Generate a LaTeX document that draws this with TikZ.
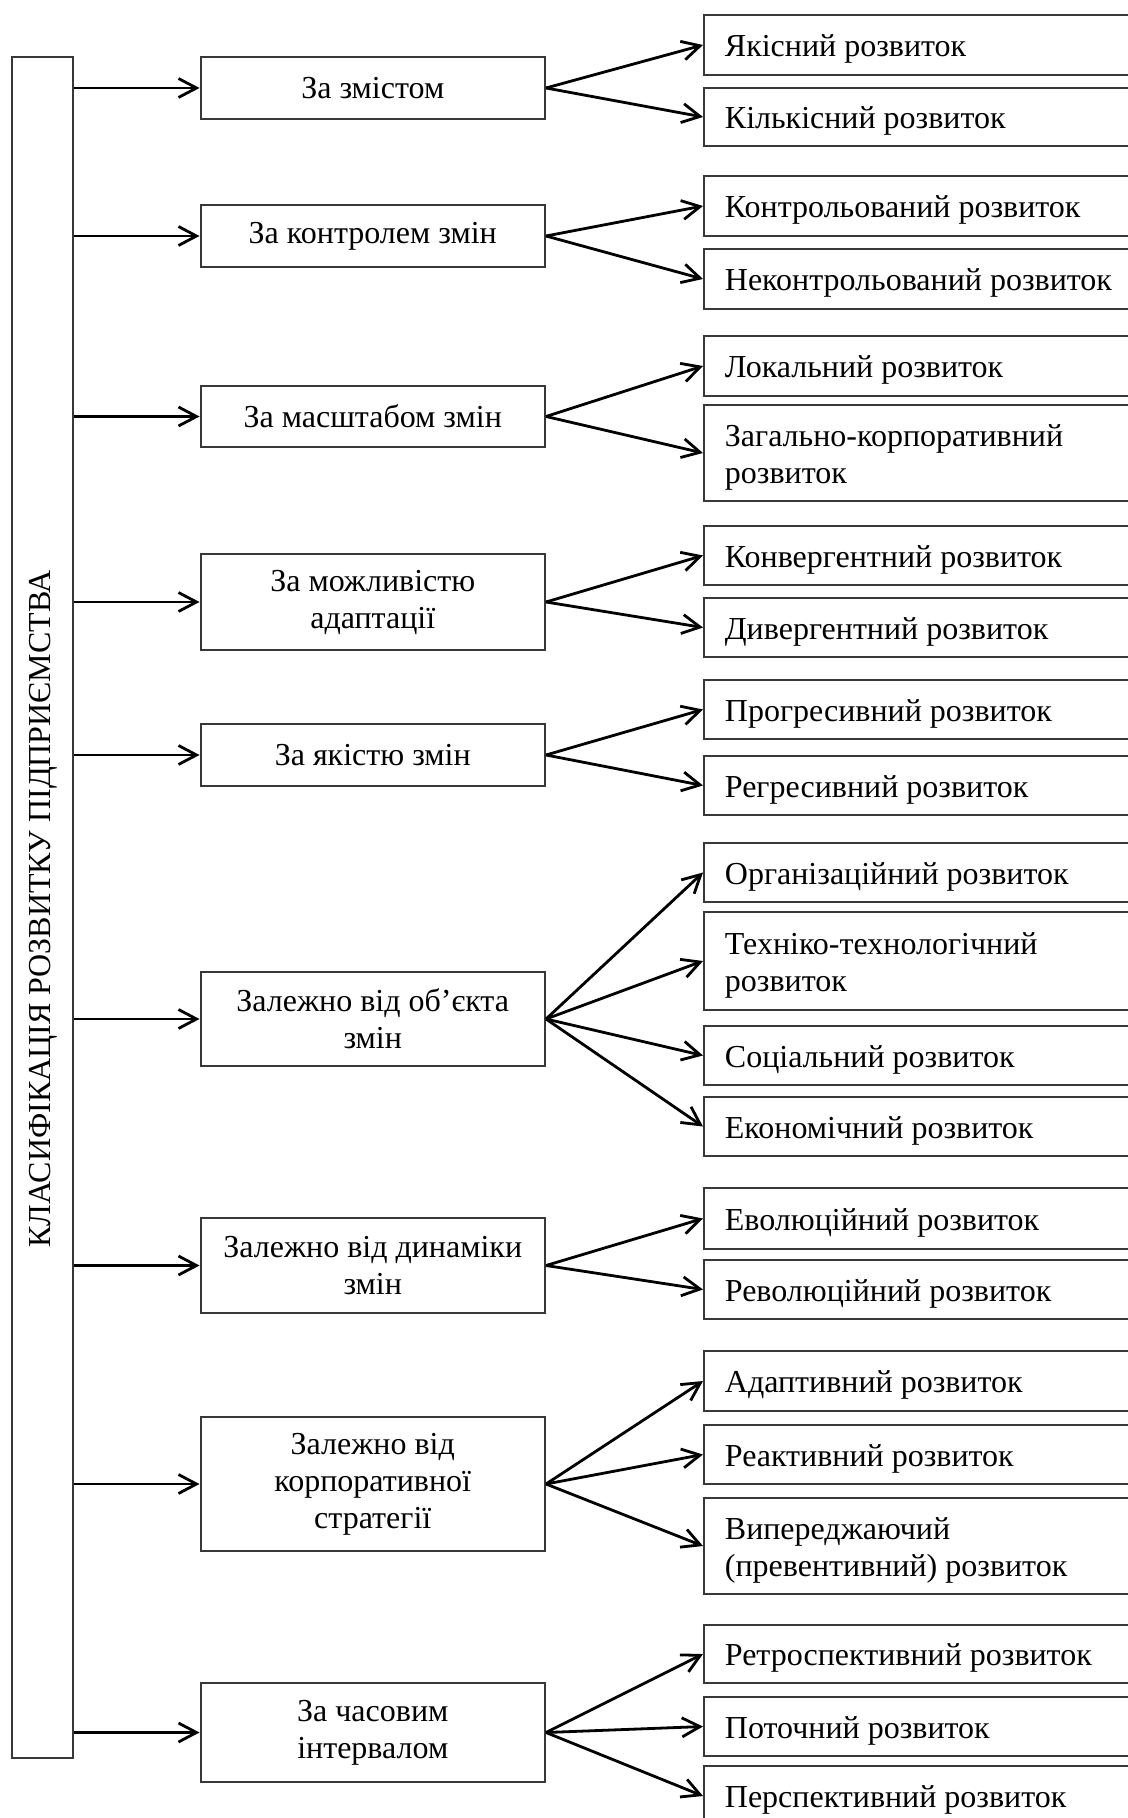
\documentclass[tikz,border=0pt]{standalone}
\usepackage{fontspec}
\setmainfont{Liberation Serif}
\usetikzlibrary{arrows.meta}
\tikzset{
  boxline/.style={draw=black!78, line width=1pt},
  midbox/.style={boxline, inner sep=0pt, minimum width=172.25pt, align=center},
  rbox/.style={boxline, inner sep=0pt, minimum width=250pt, anchor=west},
  rtext/.style={anchor=west, inner xsep=10.75pt, inner ysep=0pt, align=left},
  arr/.style={line width=1.4pt, -{Straight Barb[length=9pt,width=9.5pt]}},
}
\newcommand\MidNode[4]{\node[midbox, minimum height={(#3-#2)*0.5pt}] (#1) at (372.75,{(#2+#3)/2}) {#4};}
\newcommand\RNode[4]{\node[rbox, minimum height={(#3-#2)*0.5pt}] (#1) at (703,{(#2+#3)/2}) {};
  \node[rtext] (#1-t) at ([yshift=-2pt]#1.west) {#4};}
\begin{document}
\begin{tikzpicture}[x=0.5pt,y=-0.5pt,font=\fontsize{16pt}{18.5pt}\selectfont]
\useasboundingbox (0,0) rectangle (1128,1818);
\clip (0,0) rectangle (1128,1818);
\fill[white] (0,0) rectangle (1128,1818);
% left bar
\node[boxline, inner sep=0pt, minimum width=30.5pt, minimum height=850.5pt] (bar) at (42.5,907.5) {};
\node[rotate=90, inner sep=0pt] (bartext) at (43,909) {КЛАСИФІКАЦІЯ РОЗВИТКУ ПІДПРИЄМСТВА};
% middle boxes
\MidNode{m1}{57}{119}{За змістом}
\MidNode{m2}{205}{267}{За контролем змін}
\MidNode{m3}{386}{447}{За масштабом змін}
\MidNode{m4}{554}{650}{За можливістю\\адаптації}
\MidNode{m5}{724}{786}{За якістю змін}
\MidNode{m6}{972}{1066}{Залежно від об’єкта\\змін}
\MidNode{m7}{1218}{1313}{Залежно від динаміки\\змін}
\MidNode{m8}{1417}{1551}{Залежно від\\корпоративної\\стратегії}
\MidNode{m9}{1683}{1782}{За часовим\\інтервалом}
% right boxes
\RNode{r1}{15}{75}{Якісний розвиток}
\RNode{r2}{88}{146}{Кількісний розвиток}
\RNode{r3}{176}{236}{Контрольований розвиток}
\RNode{r4}{249}{309}{Неконтрольований розвиток}
\RNode{r5}{336}{396}{Локальний розвиток}
\RNode{r6}{405}{501}{Загально-корпоративний\\розвиток}
\RNode{r7}{526}{585}{Конвергентний розвиток}
\RNode{r8}{598}{657}{Дивергентний розвиток}
\RNode{r9}{680}{739}{Прогресивний розвиток}
\RNode{r10}{756}{815}{Регресивний розвиток}
\RNode{r11}{843}{902}{Організаційний розвиток}
\RNode{r12}{912}{1010}{Техніко-технологічний\\розвиток}
\RNode{r13}{1026}{1085}{Соціальний розвиток}
\RNode{r14}{1097}{1156}{Економічний розвиток}
\RNode{r15}{1188}{1249}{Еволюційний розвиток}
\RNode{r16}{1260}{1319}{Революційний розвиток}
\RNode{r17}{1351}{1411}{Адаптивний розвиток}
\RNode{r18}{1425}{1484}{Реактивний розвиток}
\RNode{r19}{1498}{1594}{Випереджаючий\\(превентивний) розвиток}
\RNode{r20}{1625}{1683}{Ретроспективний розвиток}
\RNode{r21}{1697}{1756}{Поточний розвиток}
\RNode{r22}{1766}{1826}{Перспективний розвиток}
% arrows from bar
\foreach \m in {m1,m2,m3,m4,m5,m6,m7,m8,m9}
  \draw[arr] (bar.east |- \m.west) -- (\m.west);
% fan arrows
\foreach \m/\r in {m1/r1,m1/r2,m2/r3,m2/r4,m3/r5,m3/r6,m4/r7,m4/r8,m5/r9,m5/r10,
  m6/r11,m6/r12,m6/r13,m6/r14,m7/r15,m7/r16,m8/r17,m8/r18,m8/r19,m9/r20,m9/r21,m9/r22}
  \draw[arr] (\m.east) -- (\r.west);
\end{tikzpicture}
\end{document}
